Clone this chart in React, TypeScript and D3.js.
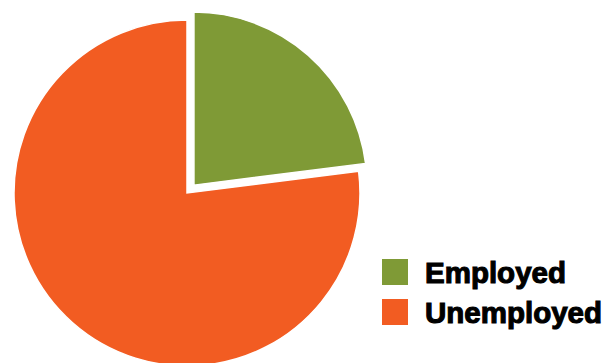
import React from "react";
import * as d3 from "d3";

const categories = ["Employed", "Unemployed"];
const values = [23, 77];
const colors = ["#7f9a36", "#f25c22"];

export default function App() {
  const W = 608, H = 363;
  const cx = 187, cy = 193, r = 173;
  const explode = 10.5;
  const pie = d3.pie<number>().sort(null)(values);
  const arc = d3.arc<d3.PieArcDatum<number>>().innerRadius(0).outerRadius(r);
  return (
    <svg width={W} height={H} style={{ position: "absolute", left: 0, top: 0, background: "#fff" }}>
      <g transform={`translate(${cx},${cy})`}>
        {pie.map((p, i) => {
          const mid = (p.startAngle + p.endAngle) / 2;
          const off = i === 0 ? explode : 0;
          const dx = Math.sin(mid) * off, dy = -Math.cos(mid) * off;
          return (
            <path key={i} d={arc(p) || ""} fill={colors[i]} stroke="#fff" strokeWidth={1.5}
              transform={`translate(${dx},${dy})`} />
          );
        })}
      </g>
      {categories.map((c, i) => (
        <g key={c} transform={`translate(382,${259 + i * 40})`}>
          <rect width={26} height={26} fill={colors[i]} />
          <text x={43} y={24} fontFamily="Liberation Sans, Arial, sans-serif" fontWeight="bold"
            fontSize={29.5} fill="#000" stroke="#000" strokeWidth={1.1}>{c}</text>
        </g>
      ))}
    </svg>
  );
}
